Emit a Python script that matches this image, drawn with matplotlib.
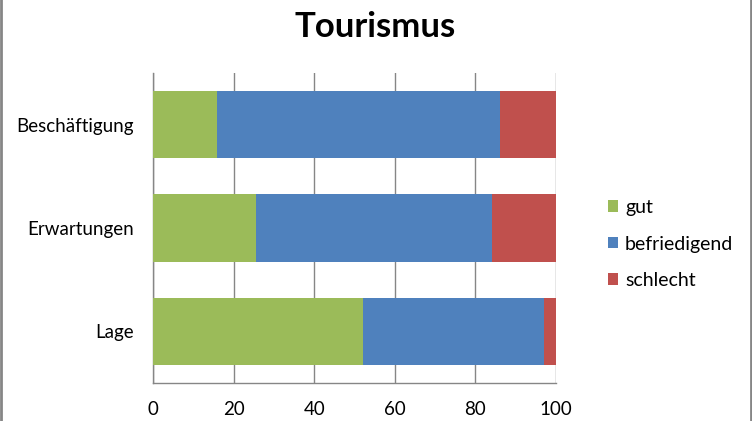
import matplotlib
matplotlib.use("Agg")
import matplotlib.pyplot as plt
from matplotlib.lines import Line2D
import numpy as np

plt.rcParams['font.family'] = ['Lato', 'DejaVu Sans']

categories = ["Lage", "Erwartungen", "Beschäftigung"]
series_names = ["gut", "befriedigend", "schlecht"]
gut = [52, 25.5, 16]
befriedigend = [45, 58.5, 70]
schlecht = [3, 16, 14]
colors = ["#9BBB59", "#4F81BD", "#C0504D"]
xticks = [0, 20, 40, 60, 80, 100]

fig = plt.figure(figsize=(7.52, 4.21), dpi=100)
fig.patch.set_facecolor("white")
ax = fig.add_axes([153/752, (421-383)/421, (556-153)/752, (383-73)/421])

y = np.arange(len(categories))
left = np.zeros(len(categories))
for vals, name, col in zip([gut, befriedigend, schlecht], series_names, colors):
    ax.barh(y, vals, left=left, height=0.65, color=col, label=name, zorder=3)
    left = left + np.array(vals)

ax.set_xlim(0, 100)
ax.set_ylim(-0.5, len(categories) - 0.5)
ax.set_xticks(xticks)
ax.set_xticklabels([str(t) for t in xticks], fontsize=13.5)
ax.set_yticks(y)
ax.set_yticklabels(categories, fontsize=13.5)
ax.tick_params(axis='both', length=0)
ax.tick_params(axis='x', pad=13)
ax.tick_params(axis='y', pad=14)
ax.grid(axis='x', color="#868686", linewidth=1, zorder=0)
for s in ["top", "right"]:
    ax.spines[s].set_visible(False)
for s in ["left", "bottom"]:
    ax.spines[s].set_color("#868686")
    ax.spines[s].set_linewidth(1)

fig.text(375/752, 1 - 27/421, "Tourismus", ha="center", va="center",
         fontsize=25, fontweight="bold")

handles, labels = ax.get_legend_handles_labels()
leg = fig.legend(handles, labels, loc="center left",
                 bbox_to_anchor=(590/752, 1 - 244/421),
                 frameon=False, fontsize=14, handlelength=0.55, handleheight=0.55,
                 handletextpad=0.35, labelspacing=1.0)

for xpos in [1/752, 750.5/752]:
    fig.lines.append(Line2D([xpos, xpos], [0, 1], transform=fig.transFigure,
                            color="#868686", linewidth=2, zorder=10))

fig.savefig("out.png", dpi=100)
